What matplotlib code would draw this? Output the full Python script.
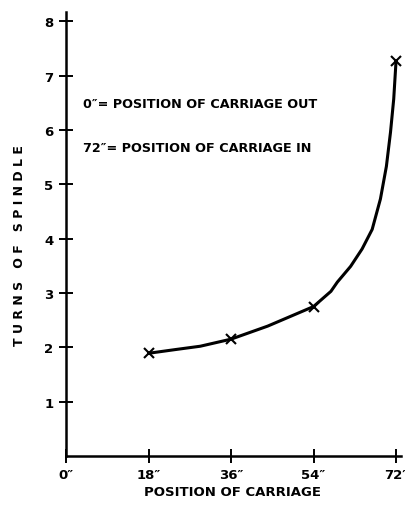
import matplotlib
matplotlib.use('Agg')
from matplotlib import pyplot as plt

plt.rcParams['font.family'] = ['Liberation Sans Narrow', 'DejaVu Sans']
plt.rcParams['font.weight'] = 'bold'

# measured points (carriage position in inches, spindle turns)
pos = [18, 36, 54, 72]
turns = [1.89, 2.15, 2.75, 7.26]

# trace of the drawn curve
curve_x = [18, 24, 29.3, 36, 44, 54, 57.8, 59.2, 62.1, 64.6, 66.8, 68.6, 69.9, 70.8, 71.5, 72]
curve_y = [1.89, 1.96, 2.02, 2.15, 2.39, 2.75, 3.03, 3.2, 3.49, 3.81, 4.17, 4.73, 5.33, 5.96, 6.57, 7.26]

x_ticks = [0, 18, 36, 54, 72]
x_tick_labels = ['0″', '18″', '36″', '54″', '72″']
y_ticks = [1, 2, 3, 4, 5, 6, 7, 8]

fig = plt.figure(figsize=(4.06, 5.06), dpi=100)
ax = fig.add_axes([66 / 406, 49 / 506, 334.6 / 406, 444 / 506])

ax.plot(curve_x, curve_y, color='black', linewidth=2.2, solid_capstyle='round',
        solid_joinstyle='round')
ax.plot(pos, turns, linestyle='none', marker='x', markersize=7,
        markeredgewidth=1.5, color='black')

ax.set_xlim(0, 73)
ax.set_ylim(0, 8.17)
ax.set_xticks(x_ticks)
ax.set_xticklabels(x_tick_labels)
ax.set_yticks(y_ticks)
ax.tick_params(direction='inout', length=10, width=1.4, labelsize=9.5, pad=4)
for lbl in ax.get_xticklabels() + ax.get_yticklabels():
    lbl.set_fontweight('bold')

ax.spines['top'].set_visible(False)
ax.spines['right'].set_visible(False)
ax.spines['left'].set_linewidth(1.8)
ax.spines['bottom'].set_linewidth(1.8)

fig.text(20 / 406, 1 - 246 / 506, 'T U R N S   O F   S P I N D L E', rotation=90,
         ha='center', va='center', fontsize=9, fontweight='bold')
fig.text(233 / 406, 1 - 493 / 506, 'POSITION OF CARRIAGE',
         ha='center', va='center', fontsize=9.5, fontweight='bold')

fig.text(83 / 406, 1 - 104 / 506, '0″= POSITION OF CARRIAGE OUT',
         ha='left', va='center', fontsize=9.2, fontweight='bold')
fig.text(83 / 406, 1 - 148 / 506, '72″= POSITION OF CARRIAGE IN',
         ha='left', va='center', fontsize=9.2, fontweight='bold')

fig.savefig('out.png', dpi=100)
